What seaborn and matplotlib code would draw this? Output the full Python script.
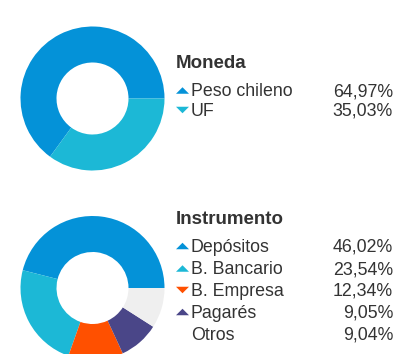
import matplotlib
matplotlib.use("Agg")
import matplotlib.pyplot as plt
from matplotlib.patches import Polygon
import seaborn as sns

sns.set_theme(style="white")
plt.rcParams["font.family"] = ["Liberation Sans", "DejaVu Sans"]

# Currency breakdown
moneda_labels = ["Peso chileno", "UF"]
moneda_values = [64.97, 35.03]
moneda_trend = ["up", "down"]

# Instrument breakdown
instr_labels = ["Depósitos", "B. Bancario", "B. Empresa", "Pagarés", "Otros"]
instr_values = [46.02, 23.54, 12.34, 9.05, 9.04]
instr_trend = ["up", "up", "down", "up", None]

BLUE = "#0492d8"
TEAL = "#1cb8d6"
ORANGE = "#ff5000"
PURPLE = "#4a4688"
GREY = "#efefef"
moneda_colors = [BLUE, TEAL]
instr_colors = sns.color_palette([BLUE, TEAL, ORANGE, PURPLE, GREY])

W, H = 396, 354
fig = plt.figure(figsize=(W / 100, H / 100), dpi=100)


def donut_axes(cx, cy, r):
    return fig.add_axes([(cx - r) / W, (H - cy - r) / H, 2 * r / W, 2 * r / H])


def draw_donut(ax, values, colors):
    ax.pie(values, colors=colors, startangle=0, counterclock=True,
           radius=1.0, wedgeprops=dict(width=0.5, linewidth=0))
    ax.set_xlim(-1, 1)
    ax.set_ylim(-1, 1)
    ax.set_aspect("equal")
    ax.axis("off")


draw_donut(donut_axes(92.5, 98.5, 72), moneda_values, moneda_colors)
draw_donut(donut_axes(92.5, 288, 72), instr_values, instr_colors)

# Overlay in pixel coordinates for the legend tables
ov = fig.add_axes([0, 0, 1, 1])
ov.set_xlim(0, W)
ov.set_ylim(H, 0)
ov.axis("off")

TXT = "#333333"


def trend_marker(x, y, direction, color):
    w, h = 13, 6.5
    if direction == "up":
        pts = [(x, y + h / 2), (x + w, y + h / 2), (x + w / 2, y - h / 2)]
    else:
        pts = [(x, y - h / 2), (x + w, y - h / 2), (x + w / 2, y + h / 2)]
    ov.add_patch(Polygon(pts, closed=True, facecolor=color, edgecolor="none"))


def table(title, title_y, labels, values, trends, colors, row_y):
    ov.text(176, title_y, title, fontsize=13.5, fontweight="bold",
            color=TXT, va="center", ha="left")
    for lab, val, tr, col, y in zip(labels, values, trends, colors, row_y):
        if tr is not None:
            trend_marker(176, y - 1.5, tr, col)
        ov.text(191, y, lab, fontsize=12.8, color=TXT, va="center", ha="left")
        ov.text(393, y, f"{val:.2f}%".replace(".", ","), fontsize=12.8,
                color=TXT, va="center", ha="right")


table("Moneda", 63, moneda_labels, moneda_values, moneda_trend,
      moneda_colors, [92, 111.5])
table("Instrumento", 219.5, instr_labels, instr_values, instr_trend,
      instr_colors, [247.5, 270, 291.5, 313.5, 335.5])

fig.savefig("out.png", dpi=100, facecolor="white")
